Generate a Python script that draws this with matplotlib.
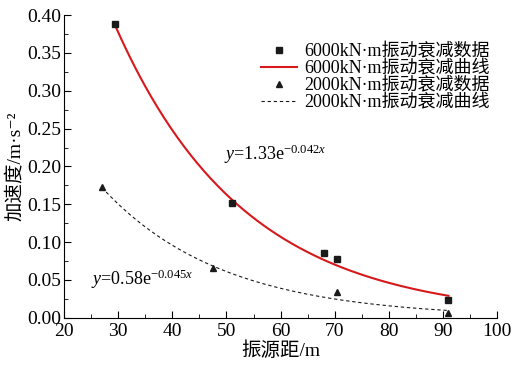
import numpy as np
import matplotlib.pyplot as plt
from matplotlib.ticker import MultipleLocator

# --- data ---
x_6000 = [29.5, 51.0, 68.0, 70.5, 91.0]
y_6000 = [0.388, 0.152, 0.086, 0.078, 0.024]
x_2000 = [27.0, 47.5, 70.5, 91.0]
y_2000 = [0.173, 0.066, 0.034, 0.006]

# fitted curves y = a * exp(b * x), as printed on the chart
fit_6000 = (1.33, -0.042)
fit_2000 = (0.58, -0.045)

fonts = ['Liberation Serif', 'Noto Sans CJK SC', 'DejaVu Serif']
plt.rcParams['font.family'] = fonts
plt.rcParams['mathtext.fontset'] = 'custom'
plt.rcParams['mathtext.rm'] = 'Liberation Serif'
plt.rcParams['mathtext.it'] = 'Liberation Serif:italic'

fig = plt.figure(figsize=(5.25, 3.67), dpi=100)
ax = fig.add_axes([0.122, 0.134, 0.825, 0.825])

xc1 = np.linspace(x_6000[0], x_6000[-1], 200)
xc2 = np.linspace(x_2000[0], x_2000[-1], 200)

ax.plot(x_6000, y_6000, 's', color='#1a1a1a', ms=4.5, label='6000kN·m振动衰减数据', zorder=3)
ax.plot(xc1, fit_6000[0] * np.exp(fit_6000[1] * xc1), color='#d7191c', lw=1.5,
        label='6000kN·m振动衰减曲线')
ax.plot(x_2000, y_2000, '^', color='#1a1a1a', ms=5, label='2000kN·m振动衰减数据', zorder=3)
ax.plot(xc2, fit_2000[0] * np.exp(fit_2000[1] * xc2), '--', color='#1a1a1a', lw=0.8,
        dashes=(3, 2.5), label='2000kN·m振动衰减曲线')

ax.text(49.5, 0.208, r'$y$=1.33e$^{-0.042x}$', fontsize=13)
ax.text(25.0, 0.043, r'$y$=0.58e$^{-0.045x}$', fontsize=13)

ax.set_xlim(20, 100)
ax.set_ylim(0, 0.40)
ax.xaxis.set_major_locator(MultipleLocator(10))
ax.xaxis.set_minor_locator(MultipleLocator(5))
ax.yaxis.set_major_locator(MultipleLocator(0.05))
ax.yaxis.set_minor_locator(MultipleLocator(0.025))
ax.set_yticklabels([f'{v:.2f}' for v in ax.get_yticks()])
ax.tick_params(which='both', direction='in', labelsize=14, pad=2)
ax.tick_params(axis='x', which='major', pad=4)
ax.tick_params(which='major', length=5)
ax.tick_params(which='minor', length=3)
for s in ['top', 'right']:
    ax.spines[s].set_visible(False)

ax.set_xlabel('振源距/m', fontsize=14, labelpad=1)
ax.set_ylabel('加速度/m·s⁻²', fontsize=14, labelpad=2)

ax.legend(loc='upper right', bbox_to_anchor=(1.0, 0.93), frameon=False, fontsize=13,
          handlelength=2.0, handletextpad=0.4, labelspacing=0.0, borderaxespad=0)

fig.savefig('out.png', dpi=100)
